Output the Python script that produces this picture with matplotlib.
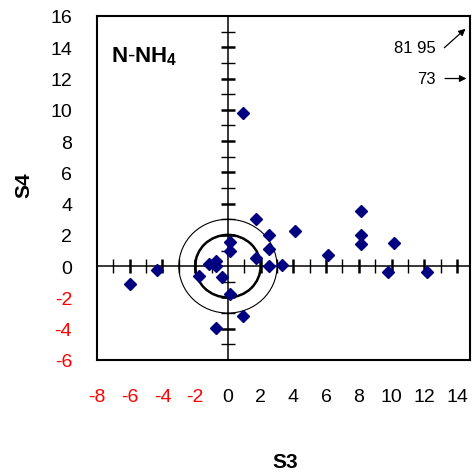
import numpy as np
import matplotlib.pyplot as plt
from matplotlib.patches import Circle

plt.rcParams['font.family'] = ['Liberation Sans', 'DejaVu Sans']
plt.rcParams['axes.unicode_minus'] = False
plt.rcParams['mathtext.fontset'] = 'custom'
plt.rcParams['mathtext.rm'] = 'Liberation Sans'
plt.rcParams['mathtext.bf'] = 'Liberation Sans:bold'

# S3 / S4 scores
s3 = [-6.0, -4.35, -1.75, -1.15, -0.75, -0.75, -0.35, 0.1, 0.1, 0.1, -0.75, 0.9,
      1.7, 1.7, 2.5, 2.5, 2.5, 3.3, 4.1, 6.1, 8.15, 8.15, 8.15, 9.8, 10.15, 12.15, 0.9]
s4 = [-1.15, -0.25, -0.6, 0.15, 0.35, 0.0, -0.7, 1.55, 1.0, -1.75, -3.95, -3.2,
      3.0, 0.5, 2.0, 1.1, 0.0, 0.1, 2.25, 0.7, 3.5, 2.0, 1.4, -0.35, 1.5, -0.35, 9.8]

x_ticks = np.arange(-8, 15, 2)
y_ticks = np.arange(-6, 17, 2)
radii = [2, 3]

fig = plt.figure(figsize=(4.77, 4.77), dpi=100)
ax = fig.add_axes([0.2034, 0.2432, 0.782, 0.7212])
ax.set_xlim(-8, 14.8)
ax.set_ylim(-6, 16)

for sp in ax.spines.values():
    sp.set_linewidth(1.5)

ax.set_xticks(x_ticks)
ax.set_yticks(y_ticks)
ax.tick_params(length=0, labelsize=14)
ax.tick_params(axis='x', pad=20)
ax.tick_params(axis='y', pad=18)
for lab, v in zip(ax.get_xticklabels(), x_ticks):
    lab.set_color('red' if v < 0 else 'black')
for lab, v in zip(ax.get_yticklabels(), y_ticks):
    lab.set_color('red' if v < 0 else 'black')

# axes through the origin with crossing ticks
ax.axhline(0, color='black', lw=1.1, zorder=1)
ax.axvline(0, color='black', lw=1.1, zorder=1)
xt = np.arange(-7, 15)
xt = xt[xt != 0]
yt = np.arange(-5, 16)
yt = yt[yt != 0]
ax.plot(xt[xt % 2 == 1], np.zeros((xt % 2 == 1).sum()), ls='none', marker='|', ms=10, mew=1, color='black')
ax.plot(xt[xt % 2 == 0], np.zeros((xt % 2 == 0).sum()), ls='none', marker='|', ms=10, mew=1.8, color='black')
ax.plot(np.zeros((yt % 2 == 1).sum()), yt[yt % 2 == 1], ls='none', marker='_', ms=10, mew=1, color='black')
ax.plot(np.zeros((yt % 2 == 0).sum()), yt[yt % 2 == 0], ls='none', marker='_', ms=10, mew=1.8, color='black')

ax.add_patch(Circle((0, 0), radii[0], fill=False, lw=1.8, color='black', zorder=2))
ax.add_patch(Circle((0, 0), radii[1], fill=False, lw=0.8, color='black', zorder=2))

ax.plot(s3, s4, ls='none', marker='D', ms=6, color='#000080', zorder=3)

ax.text(0.038, 0.885, r'$\mathbf{N}$-$\mathbf{NH}_\mathbf{4}$', transform=ax.transAxes, fontsize=16,
        va='center', ha='left')

ax.annotate('', xy=(14.65, 15.3), xytext=(13.1, 13.85),
            arrowprops=dict(arrowstyle='-|>', color='black', lw=0.9, mutation_scale=10))
ax.text(12.7, 14.0, '81 95', fontsize=12, ha='right', va='center')
ax.annotate('', xy=(14.75, 12.0), xytext=(13.1, 12.0),
            arrowprops=dict(arrowstyle='-|>', color='black', lw=0.9, mutation_scale=10))
ax.text(12.7, 12.0, '73', fontsize=12, ha='right', va='center')

fig.text(285 / 477, 1 - 463 / 477, 'S3', fontsize=15, fontweight='bold', ha='center', va='center')
fig.text(24 / 477, 1 - 185 / 477, 'S4', fontsize=15, fontweight='bold', ha='center', va='center',
         rotation=90)

fig.savefig('out.png', dpi=100)
